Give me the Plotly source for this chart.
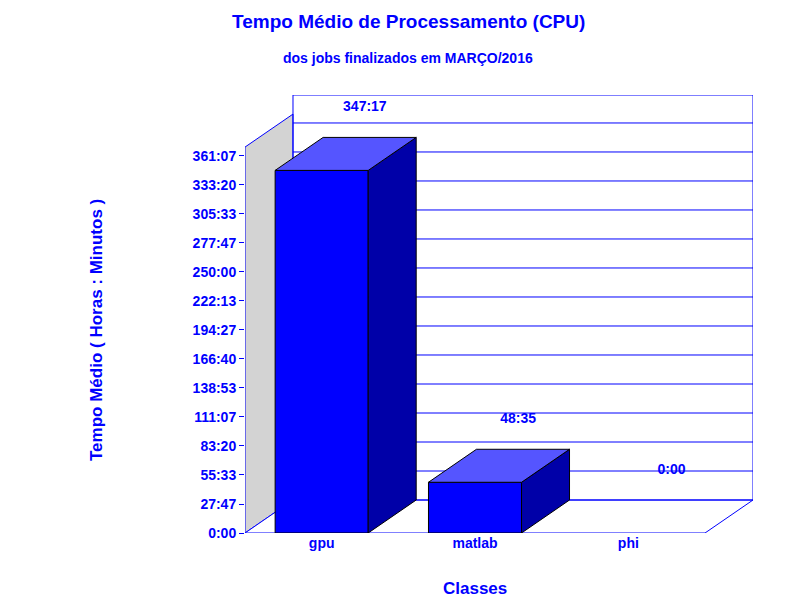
import plotly.graph_objects as go

categories = ["gpu", "matlab", "phi"]
hours = [347 + 17 / 60, 48 + 35 / 60, 0.0]
bar_labels = ["347:17", "48:35", "0:00"]
tick_count = 14
tick_step = 250 / 9

BLUE = "#0000FF"
TOP = "#5555FF"
SIDE = "#0000A8"
FONT = "Liberation Sans"

# fake 3d depth, in axis units
dx = 0.313
dy = 31.6
width = 0.607
xmax = 3.313
ymax = 419.5
ytop = 13 * tick_step + 0.5  # front edge of the walls


def hm(h):
    m = round(h * 60)
    return "%d:%02d" % (m // 60, m % 60)


fig = go.Figure()


def poly(xs, ys, fill, line="black", lw=1):
    fig.add_trace(go.Scatter(x=xs + [xs[0]], y=ys + [ys[0]], mode="lines", fill="toself",
                             fillcolor=fill, line=dict(color=line, width=lw),
                             hoverinfo="skip", showlegend=False))


# left wall and floor
poly([0, 0, dx, dx], [0, ytop + 8, ytop + 8 + dy, dy], "#D3D3D3", BLUE)
poly([0, 3, 3 + dx, dx], [0, 0, dy, dy], "white", BLUE)
poly([dx, xmax, xmax, dx], [dy, dy, ymax, ymax], "rgba(0,0,0,0)", BLUE)

# back wall grid
for k in range(1, tick_count):
    v = k * tick_step + dy
    fig.add_trace(go.Scatter(x=[dx, xmax], y=[v, v], mode="lines",
                             line=dict(color=BLUE, width=1), hoverinfo="skip", showlegend=False))

# bars
for i, h in enumerate(hours):
    if h <= 0:
        continue
    x0 = i + 0.5 - width / 2
    x1 = i + 0.5 + width / 2
    poly([x0, x1, x1, x0], [0, 0, h, h], BLUE)
    poly([x1, x1 + dx, x1 + dx, x1], [0, dy, h + dy, h], SIDE)
    poly([x0, x1, x1 + dx, x0 + dx], [h, h, h + dy, h + dy], TOP)

# value labels
fig.add_trace(go.Scatter(x=[i + 0.5 + dx * 0.9 for i in range(len(categories))],
                         y=[h + dy + 22 for h in hours], mode="text",
                         text=["<b>%s</b>" % s for s in bar_labels],
                         textfont=dict(family=FONT, size=14, color=BLUE),
                         textposition="top center", hoverinfo="skip", showlegend=False))

tickvals = [k * tick_step for k in range(tick_count)]
fig.update_layout(
    width=800, height=600, plot_bgcolor="white", paper_bgcolor="white",
    margin=dict(l=237, r=55, t=87, b=75, autoexpand=False),
    font=dict(family=FONT, color=BLUE, size=14),
    annotations=[
        dict(text="<b>Tempo Médio de Processamento (CPU)</b>", x=400, y=13, font=dict(size=19)),
        dict(text="<b>dos jobs finalizados em MARÇO/2016</b>", x=400, y=50, font=dict(size=14)),
        dict(text="<b>Classes</b>", x=467, y=580, font=dict(size=17)),
        dict(text="<b>Tempo Médio ( Horas : Minutos )</b>", x=88, y=322, textangle=-90,
             font=dict(size=17)),
    ],
)
# annotations placed in pixel terms of the 800x600 page
for a in fig.layout.annotations:
    a.update(xref="paper", yref="paper", x=(a.x - 237) / 508, y=(525 - a.y) / 438,
             showarrow=False, xanchor="center", yanchor="middle", font_color=BLUE)

fig.update_xaxes(range=[0, xmax], tickvals=[0.5, 1.5, 2.5], ticktext=["<b>%s</b>" % c for c in categories],
                 showgrid=False, zeroline=False, showline=False, ticks="", automargin=False)
fig.update_yaxes(range=[0, ymax], tickvals=tickvals, ticktext=["<b>%s</b>" % hm(v) for v in tickvals],
                 showgrid=False, zeroline=False, showline=False, ticks="outside", ticklen=5,
                 tickcolor=BLUE, automargin=False)

fig.write_html("out.html")
